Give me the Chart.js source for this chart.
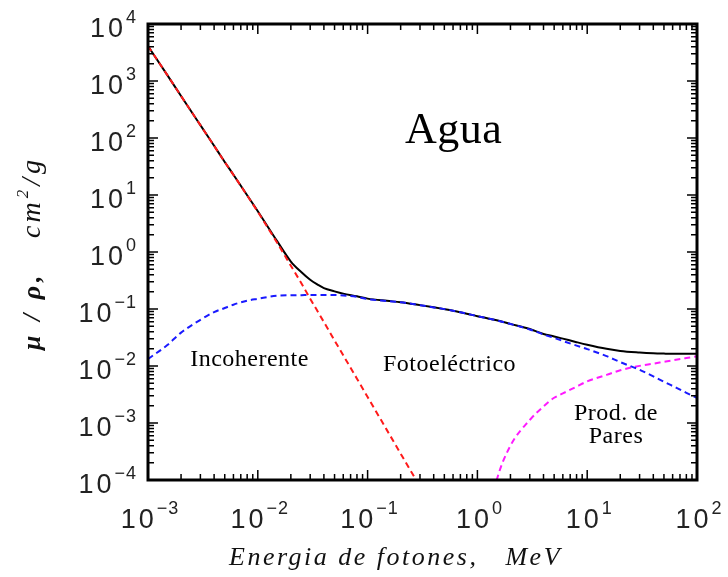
<!DOCTYPE html>
<html>
<head>
<meta charset="utf-8">
<script src="https://cdn.jsdelivr.net/npm/chart.js@4.4.1/dist/chart.umd.min.js"></script>
<style>
  html, body { margin: 0; padding: 0; background: #fff; }
  #wrap { width: 728px; height: 577px; }
</style>
</head>
<body>
<div id="wrap"><canvas id="aguaChart" width="728" height="577"></canvas></div>
<script>
// energia de fotones (MeV)
var energia = [0.001, 0.0015, 0.002, 0.003, 0.004, 0.005, 0.006, 0.008, 0.01,
  0.015, 0.02, 0.025, 0.03, 0.035, 0.04, 0.05, 0.06, 0.08, 0.1,
  0.15, 0.2, 0.3, 0.4, 0.5, 0.6, 0.8, 1,
  1.25, 1.5, 2, 3, 4, 5, 6, 8, 10,
  15, 20, 30, 40, 50, 60, 80, 100];

// mu/rho total (cm2/g), linea negra
var total = [4100, 1270, 546, 168, 73, 38, 22.7, 9.9, 5.2,
  1.55, 0.68, 0.44, 0.325, 0.268, 0.232, 0.204, 0.186, 0.167, 0.152,
  0.139, 0.1318, 0.117, 0.107, 0.0995, 0.0933, 0.0828, 0.0749,
  0.0684, 0.0634, 0.0548, 0.0445, 0.0365, 0.0330, 0.0302, 0.0262, 0.0236,
  0.0200, 0.0183, 0.0172, 0.0167, 0.0165, 0.0164, 0.0164, 0.0164];

// fotoelectrico, linea roja
var fotoelectrico = [4100, 1270, 546, 168, 73, 37.9, 22.6, 9.8, 5.07,
  1.45, 0.575, 0.28, 0.152, 0.0914, 0.059, 0.0281, 0.0154, 0.0060, 0.00286,
  0.00075, 0.00029, 0.000076, null, null, null, null, null,
  null, null, null, null, null, null, null, null, null,
  null, null, null, null, null, null, null, null];

// incoherente (Compton), linea azul
var incoherente = [0.0133, 0.0233, 0.0385, 0.0646, 0.088, 0.104, 0.119, 0.140, 0.151,
  0.171, 0.174, 0.175, 0.176, 0.176, 0.176, 0.176, 0.173, 0.163, 0.149,
  0.138, 0.1315, 0.1167, 0.1067, 0.0995, 0.0933, 0.0828, 0.0749,
  0.0684, 0.0634, 0.0546, 0.0438, 0.0357, 0.0311, 0.0275, 0.0228, 0.0198,
  0.0149, 0.0117, 0.0086, 0.00659, 0.00531, 0.00446, 0.00339, 0.00275];

// produccion de pares, linea magenta
var pares = [null, null, null, null, null, null, null, null, null,
  null, null, null, null, null, null, null, null, null, null,
  null, null, null, null, null, null, null, null,
  0.00002, 0.0001, 0.00040, 0.00113, 0.00195, 0.00277, 0.0033, 0.00435, 0.00537,
  0.00698, 0.00843, 0.01005, 0.0110, 0.01186, 0.0126, 0.0138, 0.0148];

var xDecadas = [-3, -2, -1, 0, 1, 2];
var yDecadas = [-4, -3, -2, -1, 0, 1, 2, 3, 4];

var tituloX = 'Energia de fotones,   MeV';
var tituloY1 = '\u03bc / \u03c1,';
var tituloY2 = 'cm';
var tituloY3 = '2';
var tituloY4 = '/g';

// textos dentro del grafico: [texto, energia, valor, alineacion, fuente]
var notas = [
  ['Agua', 0.219, 82, 'left', '44px "Liberation Serif"'],
  ['Incoherente', 0.00242, 0.0100, 'left', '24px "Liberation Serif"'],
  ['Fotoeléctrico', 0.138, 0.0082, 'left', '24px "Liberation Serif"'],
  ['Prod. de', 18.3, 0.00113, 'center', '24px "Liberation Serif"'],
  ['Pares', 18.3, 0.000446, 'center', '24px "Liberation Serif"']
];

function puntos(vals) {
  return energia.map(function (e, i) { return { x: e, y: vals[i] }; });
}

function potencia(ctx, exp, x, y, eje) {
  var base = '10';
  var sup = exp < 0 ? '\u2212' + (-exp) : String(exp);
  ctx.font = '27px "Liberation Sans"';
  ctx.letterSpacing = '3px';
  var wb = ctx.measureText(base).width;
  ctx.font = '18px "Liberation Sans"';
  ctx.letterSpacing = '1px';
  var ws = ctx.measureText(sup).width;
  var x0 = eje === 'x' ? x - (wb + ws) / 2 + 2 : x - (wb + ws);
  ctx.textAlign = 'left';
  ctx.textBaseline = 'alphabetic';
  ctx.font = '27px "Liberation Sans"';
  ctx.letterSpacing = '3px';
  ctx.fillText(base, x0, y);
  ctx.font = '18px "Liberation Sans"';
  ctx.letterSpacing = '1px';
  ctx.fillText(sup, x0 + wb, y - 14);
}

var marcoPlugin = {
  id: 'marco',
  afterDatasetsDraw: function (chart) {
    var ctx = chart.ctx;
    var a = chart.chartArea;
    var xs = chart.scales.x, ys = chart.scales.y;
    var d, k, v, p, len;
    ctx.save();

    // marcas hacia dentro en los cuatro lados
    ctx.strokeStyle = '#000';
    ctx.lineWidth = 1.5;
    ctx.beginPath();
    for (d = xDecadas[0]; d <= xDecadas[xDecadas.length - 1]; d++) {
      for (k = 1; k <= 9; k++) {
        v = k * Math.pow(10, d);
        if (v > xs.max * 1.0001) break;
        p = xs.getPixelForValue(v);
        len = k === 1 ? 10 : 6;
        ctx.moveTo(p, a.bottom); ctx.lineTo(p, a.bottom - len);
        ctx.moveTo(p, a.top); ctx.lineTo(p, a.top + len);
      }
    }
    for (d = yDecadas[0]; d <= yDecadas[yDecadas.length - 1]; d++) {
      for (k = 1; k <= 9; k++) {
        v = k * Math.pow(10, d);
        if (v > ys.max * 1.0001) break;
        p = ys.getPixelForValue(v);
        len = k === 1 ? 10 : 6;
        ctx.moveTo(a.left, p); ctx.lineTo(a.left + len, p);
        ctx.moveTo(a.right, p); ctx.lineTo(a.right - len, p);
      }
    }
    ctx.stroke();

    ctx.lineWidth = 3;
    ctx.strokeRect(a.left, a.top, a.right - a.left, a.bottom - a.top);

    // etiquetas de las decadas
    ctx.fillStyle = '#222';
    xDecadas.forEach(function (e) {
      potencia(ctx, e, xs.getPixelForValue(Math.pow(10, e)), a.bottom + 48, 'x');
    });
    yDecadas.forEach(function (e) {
      potencia(ctx, e, 137, ys.getPixelForValue(Math.pow(10, e)) + 12.5, 'y');
    });

    // titulo del eje x
    ctx.fillStyle = '#111';
    ctx.font = 'italic 26px "Liberation Serif"';
    ctx.letterSpacing = '2.5px';
    ctx.textAlign = 'left';
    ctx.fillText(tituloX, 229, a.bottom + 85);

    // titulo del eje y (girado)
    ctx.save();
    ctx.translate(40, 350);
    ctx.rotate(-Math.PI / 2);
    ctx.font = 'bold italic 26px "Liberation Serif"';
    ctx.letterSpacing = '4px';
    ctx.fillText(tituloY1, 0, 0);
    var cx = 112;
    ctx.font = 'italic 28px "Liberation Serif"';
    ctx.letterSpacing = '3px';
    ctx.fillText(tituloY2, cx, 0);
    cx += ctx.measureText(tituloY2).width + 1;
    ctx.font = 'italic 17px "Liberation Serif"';
    ctx.letterSpacing = '0px';
    ctx.fillText(tituloY3, cx, -12);
    cx += ctx.measureText(tituloY3).width + 4;
    ctx.font = 'italic 28px "Liberation Serif"';
    ctx.letterSpacing = '4px';
    ctx.fillText(tituloY4, cx, 0);
    ctx.restore();

    // notas
    ctx.fillStyle = '#000';
    ctx.letterSpacing = '0.5px';
    notas.forEach(function (n) {
      ctx.font = n[4];
      ctx.textAlign = n[3];
      ctx.fillText(n[0], xs.getPixelForValue(n[1]), ys.getPixelForValue(n[2]));
    });

    ctx.restore();
  }
};

new Chart('aguaChart', {
  type: 'line',
  data: {
    datasets: [
      { label: 'Fotoeléctrico', data: puntos(fotoelectrico), borderColor: '#ff1a1a',
        borderWidth: 2, borderDash: [6, 4], pointRadius: 0, cubicInterpolationMode: 'monotone', clip: 0 },
      { label: 'Incoherente', data: puntos(incoherente), borderColor: '#1a1aff',
        borderWidth: 2, borderDash: [6, 4], pointRadius: 0, cubicInterpolationMode: 'monotone', clip: 0 },
      { label: 'Prod. de Pares', data: puntos(pares), borderColor: '#ff1aff',
        borderWidth: 2, borderDash: [6, 4], pointRadius: 0, cubicInterpolationMode: 'monotone', clip: 0 },
      { label: 'Total', data: puntos(total), borderColor: '#000',
        borderWidth: 2, pointRadius: 0, cubicInterpolationMode: 'monotone', clip: 0 }
    ]
  },
  options: {
    responsive: false,
    animation: false,
    devicePixelRatio: 1,
    layout: { padding: { left: 148, top: 24, right: 31, bottom: 97 } },
    scales: {
      x: { type: 'logarithmic', min: 0.001, max: 100, display: false },
      y: { type: 'logarithmic', min: 0.0001, max: 10000, display: false }
    },
    plugins: {
      legend: { display: false },
      tooltip: { enabled: false }
    }
  },
  plugins: [marcoPlugin]
});
</script>
</body>
</html>
